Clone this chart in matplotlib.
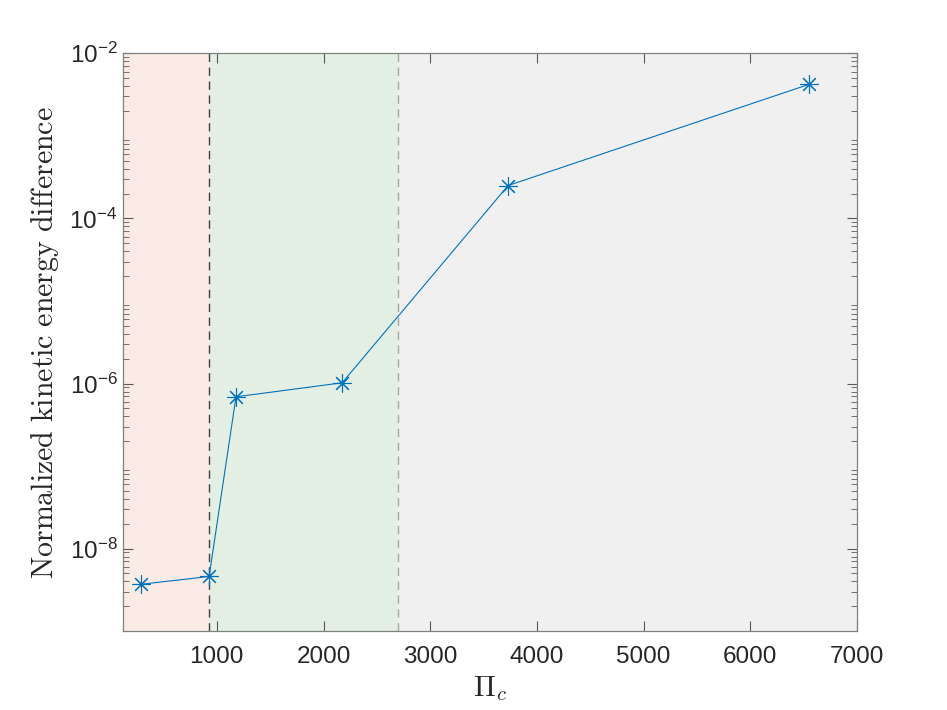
import numpy as np
import matplotlib
matplotlib.use("Agg")
import matplotlib.pyplot as plt
from matplotlib.ticker import LogLocator, FuncFormatter, FixedLocator

plt.rcParams['font.family'] = ['Liberation Sans', 'DejaVu Sans']
plt.rcParams['mathtext.fontset'] = 'custom'
plt.rcParams['mathtext.rm'] = 'Liberation Sans'

# data
pi_c = [290, 928, 1180, 2175, 3730, 6550]
ke_diff = [3.7e-9, 4.6e-9, 6.9e-7, 1.02e-6, 2.5e-4, 4.2e-3]

# regime boundaries
boundary_1 = 930
boundary_2 = 2700
x_lim = (122, 7000)
y_lim = (1e-9, 1e-2)
x_ticks = [1000, 2000, 3000, 4000, 5000, 6000, 7000]
y_ticks = [1e-8, 1e-6, 1e-4, 1e-2]

fig = plt.figure(figsize=(9.47, 7.10), dpi=100)
ax = fig.add_axes([0.130, 0.111, 0.775, 0.814])

ax.set_facecolor('#f0f0f0')
ax.axvspan(x_lim[0], boundary_1, color='#fbebe5', lw=0, zorder=0)
ax.axvspan(boundary_1, boundary_2, color='#e3efe2', lw=0, zorder=0)
ax.axvline(boundary_1, color='0.25', lw=1.0, ls=(0, (6, 4)), zorder=1)
ax.axvline(boundary_2, color='0.65', lw=1.0, ls=(0, (6, 4)), zorder=1)

ax.plot(pi_c, ke_diff, color='#0072bd', lw=0.8, marker=(8, 2, 0),
        markersize=13, markeredgewidth=0.8, zorder=3)

ax.set_yscale('log')
ax.set_xlim(*x_lim)
ax.set_ylim(*y_lim)
ax.xaxis.set_major_locator(FixedLocator(x_ticks))
ax.yaxis.set_major_locator(FixedLocator(y_ticks))
ax.yaxis.set_minor_locator(LogLocator(base=10, subs=np.arange(2, 10), numticks=20))
ax.yaxis.set_major_formatter(FuncFormatter(
    lambda v, p: r'$\mathregular{10^{-%d}}$' % round(-np.log10(v))))

ax.tick_params(which='both', direction='in', top=True, right=True,
               color='0.35', labelsize=17.5, labelcolor='#262626')
ax.tick_params(which='major', length=7, width=0.8)
ax.tick_params(which='minor', length=4, width=0.6)
ax.tick_params(axis='x', which='major', pad=11)
ax.tick_params(axis='y', which='major', pad=4)
for s in ax.spines.values():
    s.set_color('0.5')
    s.set_linewidth(0.9)

ax.set_ylabel(r'$\mathrm{Normalized\ kinetic\ energy\ difference}$',
              fontsize=21.5, math_fontfamily='cm', color='#262626', labelpad=6)
ax.set_xlabel(r'$\Pi_c$', fontsize=21, math_fontfamily='cm', color='#262626', labelpad=4)

fig.savefig('out.png', dpi=100)
